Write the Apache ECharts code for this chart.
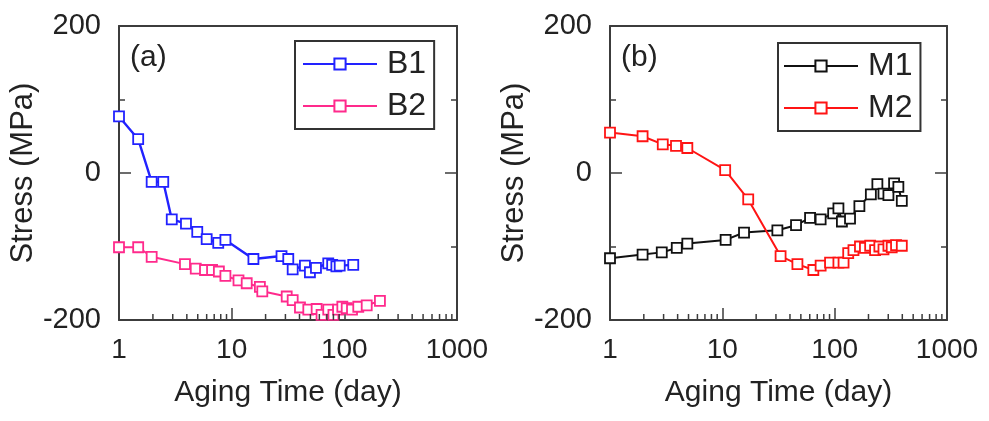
<!DOCTYPE html>
<html>
<head>
<meta charset="utf-8">
<script src="https://cdn.jsdelivr.net/npm/echarts@6/dist/echarts.min.js"></script>
<style>
  html, body { margin: 0; padding: 0; background: #fff; }
  #chart { width: 989px; height: 421px; }
</style>
</head>
<body>
<div id="chart"></div>
<script>
  // values (day, MPa)
  var b1Days = [1, 1.48, 1.95, 2.47, 2.94, 3.93, 4.95, 6.0, 7.6, 8.8, 15.6, 27.7, 31.8, 34.8, 44.7, 49.5, 56, 72, 78, 85, 91, 120]
  var b1Stress = [77, 46, -12, -12, -63, -69, -80, -90, -95, -91, -117, -113, -117, -131, -126, -135, -129, -123, -125, -127, -126, -125]

  var b2Days = [1, 1.48, 1.95, 3.85, 4.8, 5.8, 6.7, 7.7, 8.8, 11.5, 13.6, 17.8, 18.7, 30.8, 34.8, 40.4, 47.9, 56.8, 62.8, 72, 80, 88, 96, 105, 117, 133, 158, 207]
  var b2Stress = [-101, -101, -114, -124, -130, -132, -132, -134, -140, -146, -150, -155, -161, -168, -173, -183, -186, -185, -193, -186, -193, -186, -182, -184, -186, -182, -180, -174]

  var m1Days = [1, 1.95, 2.89, 3.93, 4.88, 10.7, 15.6, 30.9, 45.3, 60.4, 75, 97, 108, 116, 137, 166, 210, 240, 272, 301, 338, 369, 396]
  var m1Stress = [-116, -111, -108, -102, -96, -91, -81, -78, -71, -61, -63, -55, -48, -66, -62, -45, -29, -15, -28, -30, -14, -19, -38]

  var m2Days = [1, 1.95, 2.95, 3.87, 4.88, 10.6, 17, 33, 46.6, 64.6, 75, 91, 108, 120, 132, 147, 168, 186, 207, 229, 250, 272, 301, 322, 352, 396]
  var m2Stress = [55, 50, 39, 37, 34, 4, -36, -113, -124, -132, -126, -122, -122, -122, -109, -105, -100, -102, -99, -105, -100, -104, -99, -101, -98, -99]

  var minorTickDays = [2, 3, 4, 5, 6, 7, 8, 9, 20, 30, 40, 50, 60, 70, 80, 90, 200, 300, 400, 500, 600, 700, 800, 900]

  var font = 'Liberation Sans, Arial, sans-serif'
  var axisColor = '#3c3c3c'
  var textColor = '#222'

  function zip (xs, ys) {
    return xs.map(function (x, i) { return [x, ys[i]] })
  }

  function lineSeries (name, days, stress, color, width, idx) {
    return {
      name: name,
      type: 'line',
      xAxisIndex: idx * 2,
      yAxisIndex: idx * 2,
      data: zip(days, stress),
      symbol: 'rect',
      symbolSize: 10,
      showAllSymbol: true,
      lineStyle: { color: color, width: width },
      itemStyle: { color: '#fff', borderColor: color, borderWidth: 1.8 },
      emphasis: { disabled: true },
      animation: false,
      z: 3
    }
  }

  function minorTickSeries (idx) {
    return {
      type: 'custom',
      xAxisIndex: idx * 2,
      yAxisIndex: idx * 2,
      data: minorTickDays.map(function (d) { return [d, -200] }),
      silent: true,
      animation: false,
      z: 5,
      renderItem: function (params, api) {
        var p = api.coord([api.value(0), api.value(1)])
        return {
          type: 'line',
          shape: { x1: p[0], y1: p[1], x2: p[0], y2: p[1] - 6 },
          style: { stroke: axisColor, lineWidth: 1.5 }
        }
      }
    }
  }

  var grids = [
    { left: 119, top: 26, width: 338, height: 294 },
    { left: 610, top: 26, width: 337, height: 294 }
  ]

  var xAxes = []
  var yAxes = []
  grids.forEach(function (g, i) {
    xAxes.push({
      type: 'log', logBase: 10, min: 1, max: 1000, gridIndex: i, position: 'bottom',
      name: 'Aging Time (day)', nameLocation: 'middle', nameGap: 58,
      nameTextStyle: { fontFamily: font, fontSize: 30, color: textColor },
      axisLine: { onZero: false, lineStyle: { color: axisColor, width: 2 } },
      axisTick: { inside: true, length: 12, lineStyle: { color: axisColor, width: 1.5 } },
      axisLabel: { fontFamily: font, fontSize: 28, color: textColor, margin: 16, formatter: function (v) { return String(v) } },
      splitLine: { show: false }
    })
    xAxes.push({
      type: 'log', logBase: 10, min: 1, max: 1000, gridIndex: i, position: 'top',
      axisLine: { onZero: false, lineStyle: { color: axisColor, width: 2 } },
      axisTick: { show: false },
      axisLabel: { show: false },
      splitLine: { show: false }
    })
    yAxes.push({
      type: 'value', min: -200, max: 200, interval: 200, gridIndex: i, position: 'left',
      name: 'Stress (MPa)', nameLocation: 'middle', nameGap: 77,
      nameTextStyle: { fontFamily: font, fontSize: 31, color: textColor },
      axisLine: { onZero: false, lineStyle: { color: axisColor, width: 2 } },
      axisTick: { inside: true, length: 12, lineStyle: { color: axisColor, width: 1.5 } },
      minorTick: { show: true, splitNumber: 2, length: 6, lineStyle: { color: axisColor, width: 1.5 } },
      axisLabel: { fontFamily: font, fontSize: 29, color: textColor, margin: 18 },
      splitLine: { show: false }
    })
    yAxes.push({
      type: 'value', min: -200, max: 200, interval: 200, gridIndex: i, position: 'right',
      axisLine: { onZero: false, lineStyle: { color: axisColor, width: 2 } },
      axisTick: { inside: true, length: 12, lineStyle: { color: axisColor, width: 1.5 } },
      minorTick: { show: true, splitNumber: 2, length: 6, lineStyle: { color: axisColor, width: 1.5 } },
      axisLabel: { show: false },
      splitLine: { show: false }
    })
  })

  var legendBase = {
    orient: 'vertical',
    itemWidth: 74,
    itemHeight: 14,
    itemGap: 8,
    borderColor: '#333',
    borderWidth: 2,
    borderRadius: 0,
    selectedMode: false,
    textStyle: { fontFamily: font, fontSize: 32, color: textColor, lineHeight: 34, padding: [0, 0, 0, 5] }
  }

  var options = {
    backgroundColor: '#fff',
    animation: false,
    title: [
      { text: '(a)', left: 130, top: 43, padding: 0, textStyle: { fontFamily: font, fontSize: 30, fontWeight: 'normal', color: textColor } },
      { text: '(b)', left: 621, top: 43, padding: 0, textStyle: { fontFamily: font, fontSize: 30, fontWeight: 'normal', color: textColor } }
    ],
    legend: [
      Object.assign({}, legendBase, { data: ['B1', 'B2'], left: 295, top: 41, padding: [6, 8, 6, 7] }),
      Object.assign({}, legendBase, { data: ['M1', 'M2'], left: 778, top: 43, padding: [6, 8, 6, 5] })
    ],
    grid: grids,
    xAxis: xAxes,
    yAxis: yAxes,
    series: [
      lineSeries('B1', b1Days, b1Stress, '#2222ff', 2.4, 0),
      lineSeries('B2', b2Days, b2Stress, '#ff2a8c', 2, 0),
      lineSeries('M1', m1Days, m1Stress, '#111111', 2, 1),
      lineSeries('M2', m2Days, m2Stress, '#ff1414', 2, 1),
      minorTickSeries(0),
      minorTickSeries(1)
    ]
  }

  var chart = echarts.init(document.getElementById('chart'))
  chart.setOption(options)
</script>
</body>
</html>
